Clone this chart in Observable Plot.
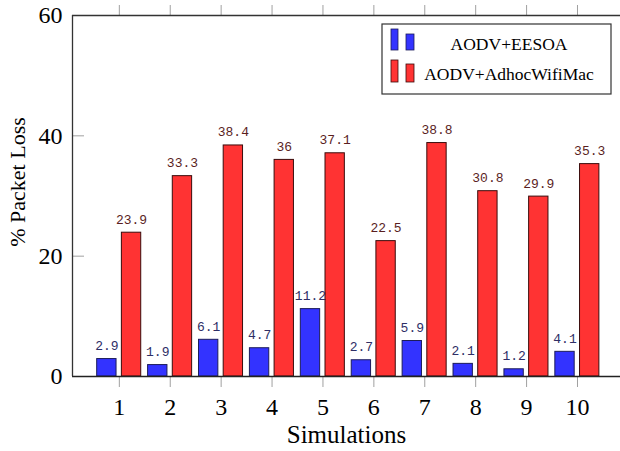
<!DOCTYPE html>
<html>
<head>
<meta charset="utf-8">
<script src="https://cdn.jsdelivr.net/npm/d3@7"></script>
<script src="https://cdn.jsdelivr.net/npm/@observablehq/plot@0.6"></script>
<style>
  html, body { margin: 0; padding: 0; background: #fff; }
  #wrap { position: relative; width: 620px; height: 451px; overflow: hidden; }
  #legend { position: absolute; left: 0; top: 0; }
</style>
</head>
<body>
<div id="wrap"></div>
<script>
const simulations = [1, 2, 3, 4, 5, 6, 7, 8, 9, 10];
const eesoa = [2.9, 1.9, 6.1, 4.7, 11.2, 2.7, 5.9, 2.1, 1.2, 4.1];
const adhoc = [23.9, 33.3, 38.4, 36, 37.1, 22.5, 38.8, 30.8, 29.9, 35.3];
const seriesNames = ["AODV+EESOA", "AODV+AdhocWifiMac"];
const yTicks = [0, 20, 40, 60];

const blueData = simulations.map((s, i) => ({sim: s, value: eesoa[i]}));
const redData = simulations.map((s, i) => ({sim: s, value: adhoc[i]}));

const serif = "'Liberation Serif', 'Times New Roman', serif";
const mono = "'Liberation Mono', 'DejaVu Sans Mono', monospace";
const blueFill = "#3333ff", redFill = "#ff3333";
const blueLabel = "#2e2e66", redLabel = "#5a1e1e";

const chart = Plot.plot({
  width: 620,
  height: 451,
  marginLeft: 72,
  marginRight: 0,
  marginTop: 15,
  marginBottom: 75,
  style: {fontFamily: serif, background: "white", overflow: "visible"},
  x: {type: "linear", domain: [0.08, 10.845]},
  y: {domain: [0, 60]},
  marks: [
    Plot.rectY(blueData, {x1: d => d.sim - 0.435, x2: d => d.sim - 0.055, y: "value", fill: blueFill, stroke: "#1c1c5a", strokeWidth: 1}),
    Plot.rectY(redData, {x1: d => d.sim + 0.05, x2: d => d.sim + 0.43, y: "value", fill: redFill, stroke: "#3a0c0c", strokeWidth: 1}),
    Plot.text(blueData, {x: d => d.sim - 0.245, y: "value", text: d => String(d.value), dy: -9, lineAnchor: "bottom", fontFamily: mono, fontSize: 13, fill: blueLabel, letterSpacing: "0.5px"}),
    Plot.text(redData, {x: d => d.sim + 0.24, y: "value", text: d => String(d.value), dy: -9, lineAnchor: "bottom", fontFamily: mono, fontSize: 13, fill: redLabel, letterSpacing: "0.5px"}),
    Plot.axisX({anchor: "bottom", ticks: simulations, tickSize: 11, tickPadding: 10, stroke: "#a0a0a0", fill: "black", fontSize: 24, fontFamily: serif, tickFormat: d => String(d), label: null}),
    Plot.axisX({anchor: "top", ticks: simulations, tickSize: 11, stroke: "#a0a0a0", tickFormat: () => "", label: null}),
    Plot.axisY({anchor: "left", ticks: yTicks, tickSize: -12, tickPadding: 22, stroke: "#a0a0a0", fill: "black", fontSize: 24, fontFamily: serif, tickFormat: d => String(d), label: null}),
    Plot.ruleY([0], {stroke: "#222", strokeWidth: 1.3}),
    Plot.ruleY([60], {stroke: "#333", strokeWidth: 1.3}),
    Plot.ruleX([0.08], {stroke: "#333", strokeWidth: 1.3}),
    Plot.text(["% Packet Loss"], {frameAnchor: "left", rotate: -90, dx: -55, dy: -14, fontSize: 22, fontFamily: serif, fill: "black", textAnchor: "middle", lineAnchor: "middle"}),
    Plot.text(["Simulations"], {frameAnchor: "bottom", dy: 58, fontSize: 25, fontFamily: serif, fill: "black", textAnchor: "middle", lineAnchor: "middle"})
  ]
});

const wrap = document.getElementById("wrap");
wrap.appendChild(chart);

// Legend (pgfplots-style ybar legend)
const ns = "http://www.w3.org/2000/svg";
const leg = d3.select(wrap).append("svg")
  .attr("id", "legend")
  .attr("width", 620).attr("height", 451)
  .style("pointer-events", "none");
leg.append("rect").attr("x", 382).attr("y", 24).attr("width", 229).attr("height", 70)
  .attr("fill", "white").attr("stroke", "#333").attr("stroke-width", 1.2);
const rows = [
  {name: seriesNames[0], fill: blueFill, stroke: "#1c1c5a", base: 50, h1: 21, h2: 16, textY: 49.5},
  {name: seriesNames[1], fill: redFill, stroke: "#3a0c0c", base: 82, h1: 22, h2: 18, textY: 80}
];
rows.forEach(r => {
  leg.append("rect").attr("x", 391).attr("y", r.base - r.h1).attr("width", 7).attr("height", r.h1)
    .attr("fill", r.fill).attr("stroke", r.stroke).attr("stroke-width", 0.8);
  leg.append("rect").attr("x", 406).attr("y", r.base - r.h2).attr("width", 8).attr("height", r.h2)
    .attr("fill", r.fill).attr("stroke", r.stroke).attr("stroke-width", 0.8);
  leg.append("text").attr("x", 509).attr("y", r.textY).attr("text-anchor", "middle")
    .attr("font-family", serif).attr("font-size", 17.5).attr("fill", "black").text(r.name);
});
</script>
</body>
</html>
